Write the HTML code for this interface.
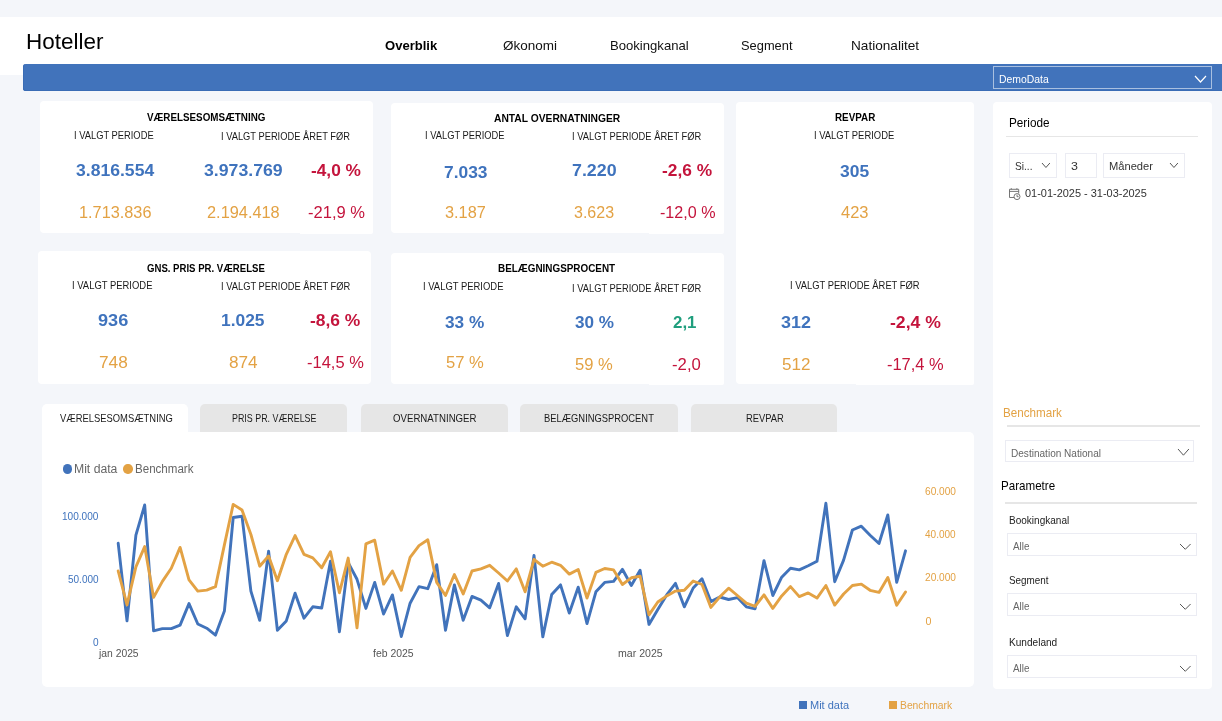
<!DOCTYPE html>
<html lang="da"><head><meta charset="utf-8"><title>Hoteller</title>
<style>
html,body{margin:0;padding:0}
body{width:1222px;height:721px;overflow:hidden;background:#f4f6fa;position:relative;font-family:"Liberation Sans",Arial,sans-serif}
.abs,.card,.box,.t{position:absolute}
.card{background:#fff;border-radius:4px}
.box{border:1px solid #ebecf3;box-sizing:border-box;background:#fff}
.t{white-space:nowrap;line-height:1;transform-origin:0 0}
</style></head><body>
<div class="abs" style="left:0px;top:17px;width:1222px;height:58px;background:#fff;"></div>
<div class="abs" style="left:23px;top:64px;width:1199px;height:27px;background:#4173bb;border-radius:3px 0 0 3px;box-shadow:inset 1px 0 0 #3a6cb5,inset 0 -1px 0 #3a6cb5;"></div>
<div class="abs" style="left:993px;top:66px;width:219px;height:23px;border:1px solid rgba(255,255,255,.55);box-sizing:border-box;"></div>
<svg class="abs" style="left:1194.2px;top:74.6px" width="13" height="8" viewBox="-1 -1 13 8"><path d="M0 0 L5.5 6 L11 0" fill="none" stroke="#fff" stroke-width="1.2"/></svg>
<div class="card" style="left:40px;top:101.2px;width:333px;height:131.60000000000002px;"></div>
<div class="card" style="left:391px;top:102.6px;width:333px;height:130.9px;"></div>
<div class="card" style="left:736.4px;top:102.2px;width:237.60000000000002px;height:282.0px;"></div>
<div class="card" style="left:38.2px;top:251.4px;width:332.8px;height:132.6px;"></div>
<div class="card" style="left:391px;top:252.5px;width:333px;height:131.5px;"></div>
<div class="abs" style="left:299.5px;top:222px;width:73.5px;height:12px;background:#fff;border-radius:0 0 2px 0;"></div>
<div class="abs" style="left:648.5px;top:222px;width:75.5px;height:12.099999999999994px;background:#fff;border-radius:0 0 2px 0;"></div>
<div class="abs" style="left:648.5px;top:375px;width:75.5px;height:10px;background:#fff;border-radius:0 0 2px 0;"></div>
<div class="abs" style="left:856px;top:375px;width:118px;height:10.300000000000011px;background:#fff;border-radius:0 0 2px 0;"></div>
<div class="card" style="left:992.8px;top:102.2px;width:219.4000000000001px;height:587.0999999999999px;"></div>
<div class="abs" style="left:41.5px;top:404px;width:146.5px;height:29px;background:#fff;border-radius:5px 5px 0 0;"></div>
<div class="abs" style="left:200px;top:404px;width:146.5px;height:28.5px;background:#e6e6e6;border-radius:5px 5px 0 0;"></div>
<div class="abs" style="left:361px;top:404px;width:146.8px;height:28.5px;background:#e6e6e6;border-radius:5px 5px 0 0;"></div>
<div class="abs" style="left:520px;top:404px;width:157.60000000000002px;height:28.5px;background:#e6e6e6;border-radius:5px 5px 0 0;"></div>
<div class="abs" style="left:691px;top:404px;width:146.29999999999995px;height:28.5px;background:#e6e6e6;border-radius:5px 5px 0 0;"></div>
<div class="abs" style="left:41.5px;top:432.3px;width:932.5px;height:254.3px;background:#fff;border-radius:0 5px 5px 5px;"></div>
<div class="abs" style="left:1006.3px;top:135.5px;width:191.70000000000005px;height:1.9000000000000057px;background:#e6e6e6;"></div>
<div class="box" style="left:1008.6px;top:153.2px;width:48.39999999999998px;height:24.600000000000023px;"></div>
<div class="box" style="left:1064.5px;top:153.2px;width:32.299999999999955px;height:25.0px;"></div>
<div class="box" style="left:1103px;top:153.2px;width:81.5px;height:24.600000000000023px;"></div>
<svg class="abs" style="left:1041.4px;top:162.2px" width="9.9" height="6.5" viewBox="-1 -1 9.9 6.5"><path d="M0 0 L3.95 4.5 L7.9 0" fill="none" stroke="#555" stroke-width="1"/></svg>
<svg class="abs" style="left:1169.4px;top:162.2px" width="9.9" height="6.5" viewBox="-1 -1 9.9 6.5"><path d="M0 0 L3.95 4.5 L7.9 0" fill="none" stroke="#555" stroke-width="1"/></svg>
<div class="abs" style="left:1007.4px;top:425.3px;width:192.39999999999998px;height:1.8999999999999773px;background:#e6e6e6;"></div>
<div class="box" style="left:1005.3px;top:439.5px;width:188.4000000000001px;height:22.899999999999977px;"></div>
<svg class="abs" style="left:1177.1px;top:448.3px" width="12.9" height="8.2" viewBox="-1 -1 12.9 8.2"><path d="M0 0 L5.45 6.2 L10.9 0" fill="none" stroke="#555" stroke-width="1"/></svg>
<div class="abs" style="left:1004.5px;top:501.8px;width:192.0999999999999px;height:1.8999999999999773px;background:#e6e6e6;"></div>
<div class="box" style="left:1007.1px;top:533.1px;width:189.4999999999999px;height:23.0px;"></div>
<svg class="abs" style="left:1179.2px;top:542.8000000000001px" width="12.6" height="7.3" viewBox="-1 -1 12.6 7.3"><path d="M0 0 L5.3 5.3 L10.6 0" fill="none" stroke="#555" stroke-width="1"/></svg>
<div class="box" style="left:1007.1px;top:593.3px;width:189.4999999999999px;height:23.0px;"></div>
<svg class="abs" style="left:1179.2px;top:603.0px" width="12.6" height="7.3" viewBox="-1 -1 12.6 7.3"><path d="M0 0 L5.3 5.3 L10.6 0" fill="none" stroke="#555" stroke-width="1"/></svg>
<div class="box" style="left:1007.1px;top:655.2px;width:189.4999999999999px;height:23.0px;"></div>
<svg class="abs" style="left:1179.2px;top:664.9000000000001px" width="12.6" height="7.3" viewBox="-1 -1 12.6 7.3"><path d="M0 0 L5.3 5.3 L10.6 0" fill="none" stroke="#555" stroke-width="1"/></svg>
<svg class="abs" style="left:1008px;top:187px" width="14" height="14" viewBox="1008 187 14 14" fill="none" stroke="#666" stroke-width="0.9"><path d="M1009.5 189.3h9.2v4.2M1014 197.5h-4.5v-8.2M1009.5 191.4h9.2M1011.3 188.2v1.1M1016.9 188.2v1.1"/><circle cx="1017" cy="196.6" r="3" fill="#fff"/><path d="M1017 194.8v1.9h1.6"/></svg>
<svg class="abs" style="left:0;top:480px" width="1000" height="180" viewBox="0 480 1000 180" fill="none" stroke-width="2.9" stroke-linejoin="round" stroke-linecap="round"><polyline stroke="#4173bb" points="118.2,543.3 127.0,620.9 135.9,535.2 144.7,505.0 153.6,630.9 162.4,628.6 171.3,628.6 180.1,625.1 189.0,603.6 197.8,624.0 206.7,628.2 215.5,635.1 224.4,611.1 233.2,517.5 242.0,516.2 250.9,591.1 259.7,620.3 268.6,551.2 277.4,630.3 286.3,620.9 295.1,593.2 304.0,618.2 312.8,606.8 321.7,608.0 330.5,561.2 339.4,631.7 348.2,562.6 357.0,579.3 365.9,608.4 374.7,582.4 383.6,614.0 392.4,594.9 401.3,636.5 410.1,603.2 419.0,586.6 427.8,588.7 436.7,564.7 445.5,630.3 454.4,584.9 463.2,620.3 472.0,596.4 480.9,600.1 489.7,607.8 498.6,583.4 507.4,635.5 516.3,606.8 525.1,618.8 534.0,555.4 542.8,636.9 551.7,594.5 560.5,584.9 569.3,613.0 578.2,587.2 587.0,623.6 595.9,591.8 604.7,582.4 613.6,581.4 622.4,569.3 631.3,585.5 640.1,570.3 649.0,624.4 657.8,609.5 666.7,594.9 675.5,583.4 684.3,606.8 693.2,588.0 702.0,578.7 710.9,601.6 719.7,597.0 728.6,599.5 737.4,597.6 746.3,606.8 755.1,608.8 764.0,560.6 772.8,595.5 781.7,577.2 790.5,568.3 799.3,569.9 808.2,565.8 817.0,561.2 825.9,503.3 834.7,581.7 843.6,560.1 852.4,530.0 861.3,526.2 870.1,535.2 879.0,543.5 887.8,515.0 896.7,582.4 905.5,550.8"/><polyline stroke="#e3a244" points="118.2,571.0 127.0,604.9 135.9,566.8 144.7,546.6 153.6,597.4 162.4,581.4 171.3,568.3 180.1,547.4 189.0,579.9 197.8,591.1 206.7,590.1 215.5,586.6 224.4,544.9 233.2,504.4 242.0,510.0 250.9,534.5 259.7,566.2 268.6,556.0 277.4,580.7 286.3,554.3 295.1,535.6 304.0,554.3 312.8,557.9 321.7,567.8 330.5,551.8 339.4,592.8 348.2,558.1 357.0,627.8 365.9,543.9 374.7,540.2 383.6,584.1 392.4,571.0 401.3,590.3 410.1,557.4 419.0,545.6 427.8,539.7 436.7,582.4 445.5,595.5 454.4,574.5 463.2,593.9 472.0,571.0 480.9,568.9 489.7,565.3 498.6,573.0 507.4,581.0 516.3,568.9 525.1,591.8 534.0,559.5 542.8,566.2 551.7,562.2 560.5,565.3 569.3,574.1 578.2,569.5 587.0,598.0 595.9,572.4 604.7,568.5 613.6,569.9 622.4,584.5 631.3,577.8 640.1,576.2 649.0,614.9 657.8,602.0 666.7,595.9 675.5,591.1 684.3,590.3 693.2,581.0 702.0,584.5 710.9,607.4 719.7,597.0 728.6,588.2 737.4,595.5 746.3,603.2 755.1,606.3 764.0,594.9 772.8,608.4 781.7,595.9 790.5,586.6 799.3,596.6 808.2,592.9 817.0,598.1 825.9,585.5 834.7,605.1 843.6,594.0 852.4,585.5 861.3,584.1 870.1,590.3 879.0,592.4 887.8,577.4 896.7,605.3 905.5,592.0"/></svg>
<div class="abs" style="left:62.8px;top:464.3px;width:9.400000000000006px;height:9.399999999999977px;background:#4173bb;border-radius:50%;"></div>
<div class="abs" style="left:123.3px;top:464.3px;width:9.399999999999991px;height:9.399999999999977px;background:#e3a244;border-radius:50%;"></div>
<div class="abs" style="left:799.3px;top:701px;width:7.800000000000068px;height:7.7999999999999545px;background:#4173bb;"></div>
<div class="abs" style="left:889.3px;top:701px;width:7.800000000000068px;height:7.7999999999999545px;background:#e3a244;"></div>
<span class="t" style="left:25.96px;top:31px;font-size:22px;transform:scaleX(1.0206);color:#000;">Hoteller</span>
<span class="t" style="left:384.81px;top:39px;font-size:13.4px;transform:scaleX(0.9742);color:#000;font-weight:700;">Overblik</span>
<span class="t" style="left:502.70px;top:39px;font-size:13.4px;transform:scaleX(1.0068);color:#111;">Økonomi</span>
<span class="t" style="left:609.52px;top:39px;font-size:13.4px;transform:scaleX(0.9786);color:#111;">Bookingkanal</span>
<span class="t" style="left:741.22px;top:39px;font-size:13.4px;transform:scaleX(0.9602);color:#111;">Segment</span>
<span class="t" style="left:851.48px;top:39px;font-size:13.4px;transform:scaleX(1.0164);color:#111;">Nationalitet</span>
<span class="t" style="left:998.65px;top:74px;font-size:11px;transform:scaleX(0.9467);color:#fff;">DemoData</span>
<span class="t" style="left:146.50px;top:112px;font-size:10.7px;transform:scaleX(0.9191);color:#000;font-weight:700;">VÆRELSESOMSÆTNING</span>
<span class="t" style="left:74.08px;top:130px;font-size:11.4px;transform:scaleX(0.8203);color:#1a1a1a;">I VALGT PERIODE</span>
<span class="t" style="left:221.18px;top:131px;font-size:11.4px;transform:scaleX(0.8180);color:#1a1a1a;">I VALGT PERIODE ÅRET FØR</span>
<span class="t" style="left:76.29px;top:162px;font-size:17px;transform:scaleX(1.0336);color:#3f73bd;font-weight:700;">3.816.554</span>
<span class="t" style="left:203.89px;top:162px;font-size:17px;transform:scaleX(1.0405);color:#3f73bd;font-weight:700;">3.973.769</span>
<span class="t" style="left:311.49px;top:162px;font-size:17px;transform:scaleX(1.0163);color:#c4143c;font-weight:700;">-4,0 %</span>
<span class="t" style="left:78.85px;top:204px;font-size:17px;transform:scaleX(0.9583);color:#e3a244;">1.713.836</span>
<span class="t" style="left:206.93px;top:204px;font-size:17px;transform:scaleX(0.9613);color:#e3a244;">2.194.418</span>
<span class="t" style="left:307.92px;top:204px;font-size:17px;transform:scaleX(0.9726);color:#c4143c;">-21,9 %</span>
<span class="t" style="left:493.61px;top:113px;font-size:10.7px;transform:scaleX(0.9616);color:#000;font-weight:700;">ANTAL OVERNATNINGER</span>
<span class="t" style="left:425.38px;top:130px;font-size:11.4px;transform:scaleX(0.8192);color:#1a1a1a;">I VALGT PERIODE</span>
<span class="t" style="left:572.18px;top:131px;font-size:11.4px;transform:scaleX(0.8200);color:#1a1a1a;">I VALGT PERIODE ÅRET FØR</span>
<span class="t" style="left:443.58px;top:164px;font-size:17px;transform:scaleX(1.0221);color:#3f73bd;font-weight:700;">7.033</span>
<span class="t" style="left:572.27px;top:162px;font-size:17px;transform:scaleX(1.0489);color:#3f73bd;font-weight:700;">7.220</span>
<span class="t" style="left:662.39px;top:162px;font-size:17px;transform:scaleX(1.0184);color:#c4143c;font-weight:700;">-2,6 %</span>
<span class="t" style="left:445.22px;top:204px;font-size:17px;transform:scaleX(0.9589);color:#e3a244;">3.187</span>
<span class="t" style="left:573.63px;top:204px;font-size:17px;transform:scaleX(0.9422);color:#e3a244;">3.623</span>
<span class="t" style="left:659.64px;top:204px;font-size:17px;transform:scaleX(0.9482);color:#c4143c;">-12,0 %</span>
<span class="t" style="left:834.65px;top:112px;font-size:10.7px;transform:scaleX(0.9216);color:#000;font-weight:700;">REVPAR</span>
<span class="t" style="left:814.47px;top:130px;font-size:11.4px;transform:scaleX(0.8265);color:#1a1a1a;">I VALGT PERIODE</span>
<span class="t" style="left:839.99px;top:163px;font-size:17px;transform:scaleX(1.0250);color:#3f73bd;font-weight:700;">305</span>
<span class="t" style="left:840.71px;top:204px;font-size:17px;transform:scaleX(0.9705);color:#e3a244;">423</span>
<span class="t" style="left:789.78px;top:280px;font-size:11.4px;transform:scaleX(0.8219);color:#1a1a1a;">I VALGT PERIODE ÅRET FØR</span>
<span class="t" style="left:781.08px;top:314px;font-size:17px;transform:scaleX(1.0544);color:#3f73bd;font-weight:700;">312</span>
<span class="t" style="left:890.38px;top:314px;font-size:17px;transform:scaleX(1.0350);color:#c4143c;font-weight:700;">-2,4 %</span>
<span class="t" style="left:781.90px;top:356px;font-size:17px;transform:scaleX(1.0034);color:#e3a244;">512</span>
<span class="t" style="left:887.32px;top:356px;font-size:17px;transform:scaleX(0.9674);color:#c4143c;">-17,4 %</span>
<span class="t" style="left:146.64px;top:263px;font-size:10.7px;transform:scaleX(0.8977);color:#000;font-weight:700;">GNS. PRIS PR. VÆRELSE</span>
<span class="t" style="left:71.87px;top:280px;font-size:11.4px;transform:scaleX(0.8286);color:#1a1a1a;">I VALGT PERIODE</span>
<span class="t" style="left:220.78px;top:281px;font-size:11.4px;transform:scaleX(0.8206);color:#1a1a1a;">I VALGT PERIODE ÅRET FØR</span>
<span class="t" style="left:98.17px;top:312px;font-size:17px;transform:scaleX(1.0656);color:#3f73bd;font-weight:700;">936</span>
<span class="t" style="left:221.28px;top:312px;font-size:17px;transform:scaleX(1.0222);color:#3f73bd;font-weight:700;">1.025</span>
<span class="t" style="left:309.69px;top:312px;font-size:17px;transform:scaleX(1.0246);color:#c4143c;font-weight:700;">-8,6 %</span>
<span class="t" style="left:98.89px;top:354px;font-size:17px;transform:scaleX(1.0145);color:#e3a244;">748</span>
<span class="t" style="left:228.79px;top:354px;font-size:17px;transform:scaleX(1.0107);color:#e3a244;">874</span>
<span class="t" style="left:306.92px;top:354px;font-size:17px;transform:scaleX(0.9691);color:#c4143c;">-14,5 %</span>
<span class="t" style="left:497.95px;top:263px;font-size:10.7px;transform:scaleX(0.9262);color:#000;font-weight:700;">BELÆGNINGSPROCENT</span>
<span class="t" style="left:422.87px;top:281px;font-size:11.4px;transform:scaleX(0.8286);color:#1a1a1a;">I VALGT PERIODE</span>
<span class="t" style="left:572.18px;top:283px;font-size:11.4px;transform:scaleX(0.8200);color:#1a1a1a;">I VALGT PERIODE ÅRET FØR</span>
<span class="t" style="left:444.80px;top:314px;font-size:17px;transform:scaleX(1.0123);color:#3f73bd;font-weight:700;">33 %</span>
<span class="t" style="left:574.70px;top:314px;font-size:17px;transform:scaleX(1.0070);color:#3f73bd;font-weight:700;">30 %</span>
<span class="t" style="left:673.30px;top:314px;font-size:17px;transform:scaleX(0.9922);color:#1f9e7d;font-weight:700;">2,1</span>
<span class="t" style="left:445.61px;top:354px;font-size:17px;transform:scaleX(0.9779);color:#e3a244;">57 %</span>
<span class="t" style="left:575.41px;top:356px;font-size:17px;transform:scaleX(0.9752);color:#e3a244;">59 %</span>
<span class="t" style="left:671.71px;top:356px;font-size:17px;transform:scaleX(0.9843);color:#c4143c;">-2,0</span>
<span class="t" style="left:59.50px;top:413px;font-size:11px;transform:scaleX(0.8548);color:#1a1a1a;">VÆRELSESOMSÆTNING</span>
<span class="t" style="left:231.87px;top:413px;font-size:11px;transform:scaleX(0.8082);color:#1a1a1a;">PRIS PR. VÆRELSE</span>
<span class="t" style="left:393.26px;top:413px;font-size:11px;transform:scaleX(0.8780);color:#1a1a1a;">OVERNATNINGER</span>
<span class="t" style="left:544.33px;top:413px;font-size:11px;transform:scaleX(0.8518);color:#1a1a1a;">BELÆGNINGSPROCENT</span>
<span class="t" style="left:745.83px;top:413px;font-size:11px;transform:scaleX(0.8520);color:#1a1a1a;">REVPAR</span>
<span class="t" style="left:73.79px;top:463px;font-size:12px;transform:scaleX(1.0165);color:#666;">Mit data</span>
<span class="t" style="left:134.73px;top:463px;font-size:12px;transform:scaleX(0.9634);color:#666;">Benchmark</span>
<span class="t" style="left:62.15px;top:511px;font-size:10.7px;transform:scaleX(0.9407);color:#3f73bd;">100.000</span>
<span class="t" style="left:67.93px;top:574px;font-size:10.7px;transform:scaleX(0.9351);color:#3f73bd;">50.000</span>
<span class="t" style="left:93.12px;top:637px;font-size:10.7px;transform:scaleX(0.9423);color:#3f73bd;">0</span>
<span class="t" style="left:925.03px;top:486px;font-size:10.7px;transform:scaleX(0.9474);color:#e3a244;">60.000</span>
<span class="t" style="left:925.31px;top:529px;font-size:10.7px;transform:scaleX(0.9386);color:#e3a244;">40.000</span>
<span class="t" style="left:925.03px;top:572px;font-size:10.7px;transform:scaleX(0.9474);color:#e3a244;">20.000</span>
<span class="t" style="left:925.50px;top:616px;font-size:10.7px;transform:scaleX(1.0000);color:#e3a244;">0</span>
<span class="t" style="left:98.78px;top:648px;font-size:11px;transform:scaleX(0.9385);color:#555;">jan 2025</span>
<span class="t" style="left:372.91px;top:648px;font-size:11px;transform:scaleX(0.9480);color:#555;">feb 2025</span>
<span class="t" style="left:618.33px;top:648px;font-size:11px;transform:scaleX(0.9613);color:#555;">mar 2025</span>
<span class="t" style="left:810.15px;top:699px;font-size:11.6px;transform:scaleX(0.9478);color:#3f73bd;">Mit data</span>
<span class="t" style="left:900.20px;top:699px;font-size:11.6px;transform:scaleX(0.8900);color:#e3a244;">Benchmark</span>
<span class="t" style="left:1008.97px;top:117px;font-size:12.6px;transform:scaleX(0.9327);color:#000;">Periode</span>
<span class="t" style="left:1014.54px;top:161px;font-size:11px;transform:scaleX(0.9204);color:#333;">Si...</span>
<span class="t" style="left:1070.55px;top:161px;font-size:11px;transform:scaleX(1.1321);color:#333;">3</span>
<span class="t" style="left:1109.09px;top:161px;font-size:11px;transform:scaleX(1.0130);color:#333;">Måneder</span>
<span class="t" style="left:1025.22px;top:188px;font-size:11.4px;transform:scaleX(0.9617);color:#333;">01-01-2025 - 31-03-2025</span>
<span class="t" style="left:1002.88px;top:407px;font-size:12.6px;transform:scaleX(0.9248);color:#e3a244;">Benchmark</span>
<span class="t" style="left:1010.68px;top:448px;font-size:11px;transform:scaleX(0.9143);color:#666;">Destination National</span>
<span class="t" style="left:1001.48px;top:480px;font-size:12.6px;transform:scaleX(0.9212);color:#000;">Parametre</span>
<span class="t" style="left:1009.28px;top:515px;font-size:11px;transform:scaleX(0.9116);color:#222;">Bookingkanal</span>
<span class="t" style="left:1012.70px;top:541px;font-size:11px;transform:scaleX(0.8982);color:#666;">Alle</span>
<span class="t" style="left:1009.45px;top:575px;font-size:11px;transform:scaleX(0.8972);color:#222;">Segment</span>
<span class="t" style="left:1012.70px;top:601px;font-size:11px;transform:scaleX(0.8982);color:#666;">Alle</span>
<span class="t" style="left:1009.08px;top:637px;font-size:11px;transform:scaleX(0.9161);color:#222;">Kundeland</span>
<span class="t" style="left:1012.70px;top:663px;font-size:11px;transform:scaleX(0.8982);color:#666;">Alle</span>
</body></html>
